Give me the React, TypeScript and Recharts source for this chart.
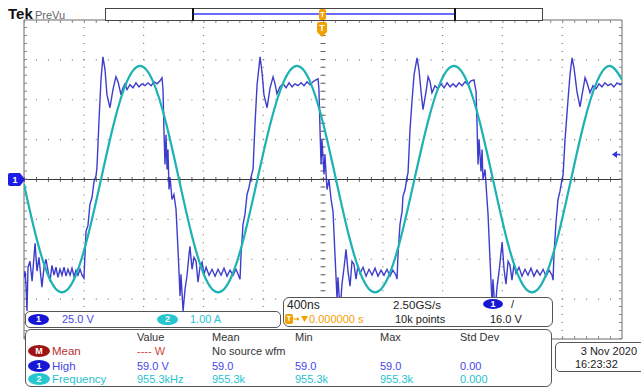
import React from 'react';
import { ComposedChart, Line, XAxis, YAxis, ReferenceLine, ReferenceArea } from 'recharts';

// ---- Channel 1 (voltage, V) : [time ns, volts]
const ch1Trace: [number, number][] = [
  [0, -61.3], [7, -57.5], [13, -65.6], [20, -82.5], [27, -55.0], [40, -51.3], [54, -63.8], [74, -40.0],
  [87, -57.5], [100, -48.8], [120, -67.5], [134, -55.0], [147, -50.0], [161, -57.5], [174, -63.8], [187, -53.8],
  [201, -60.0], [214, -55.0], [227, -61.3], [241, -56.3], [254, -60.0], [268, -55.0], [281, -60.6], [294, -56.3],
  [308, -60.0], [321, -55.6], [334, -60.6], [348, -56.9], [361, -60.0], [375, -56.3], [388, -60.0], [401, -61.9],
  [408, -46.9], [415, -32.5], [428, -28.8], [441, -15.6], [455, -11.3], [468, -1.3], [482, 2.5], [488, 7.5],
  [502, 37.5], [515, 62.5], [528, 76.9], [542, 68.8], [555, 53.1], [575, 45.0], [595, 56.3], [615, 64.4],
  [629, 61.3], [649, 53.1], [662, 57.5], [676, 60.0], [689, 56.3], [709, 59.4], [729, 57.5], [749, 60.6],
  [769, 58.1], [789, 60.0], [809, 58.8], [829, 60.6], [850, 58.8], [870, 61.3], [890, 60.0], [910, 61.9],
  [923, 63.8], [930, 56.3], [936, 31.3], [943, 9.4], [950, 28.1], [957, 6.3], [963, 18.8], [970, -6.3],
  [977, 1.3], [990, -12.5], [1003, -9.4], [1017, -18.8], [1030, -43.8], [1044, -73.1], [1050, -59.4], [1064, -82.5],
  [1077, -68.8], [1090, -60.6], [1104, -46.9], [1110, -41.9], [1124, -56.3], [1137, -48.8], [1151, -51.3], [1164, -64.4],
  [1177, -55.0], [1191, -51.9], [1204, -59.4], [1218, -55.0], [1238, -60.0], [1258, -56.3], [1278, -60.6], [1298, -56.3],
  [1318, -60.0], [1338, -55.6], [1358, -60.6], [1378, -56.9], [1398, -60.0], [1418, -56.3], [1432, -59.4], [1445, -62.5],
  [1452, -46.9], [1465, -28.1], [1478, -21.9], [1492, -9.4], [1505, -5.0], [1518, 1.3], [1532, 6.3], [1545, 34.4],
  [1559, 59.4], [1579, 76.9], [1592, 67.5], [1605, 53.1], [1626, 45.0], [1646, 57.5], [1666, 64.4], [1679, 60.0],
  [1692, 53.8], [1712, 58.1], [1733, 60.0], [1753, 57.5], [1773, 60.6], [1793, 58.1], [1813, 60.0], [1833, 58.8],
  [1853, 60.6], [1873, 58.8], [1893, 61.3], [1913, 59.4], [1933, 61.3], [1953, 62.5], [1967, 63.1],
  [1973, 56.3], [1980, 31.3], [1987, 9.4], [1993, 25.0], [2007, 3.1], [2013, 15.6], [2027, -6.3], [2040, 0],
  [2054, -12.5], [2067, -20.0], [2080, -46.9], [2094, -75.0], [2100, -61.3], [2114, -82.5], [2127, -65.6], [2141, -55.0],
  [2154, -43.8], [2167, -57.5], [2181, -66.9], [2194, -51.3], [2207, -53.1], [2221, -62.5], [2234, -53.8], [2248, -58.8],
  [2268, -55.0], [2288, -60.6], [2308, -56.3], [2328, -60.0], [2348, -55.6], [2368, -60.6], [2388, -56.9], [2408, -60.0],
  [2428, -56.3], [2448, -60.6], [2468, -56.9], [2488, -60.0], [2495, -62.5],
  [2502, -46.9], [2515, -28.1], [2529, -20.0], [2535, -10.6], [2549, -6.3], [2562, 1.3], [2569, 4.4], [2582, 31.3],
  [2596, 50.0], [2609, 65.6], [2629, 76.3], [2642, 68.8], [2656, 55.0], [2669, 43.8], [2689, 55.0], [2703, 64.4],
  [2716, 61.3], [2729, 54.4], [2749, 58.8], [2769, 56.9], [2789, 60.0], [2810, 57.5], [2830, 60.6], [2850, 58.1],
  [2870, 60.0], [2890, 58.1], [2910, 60.6], [2930, 58.8], [2950, 61.3], [2970, 59.4], [2990, 61.9], [3010, 62.5],
  [3024, 55.0], [3030, 35.6], [3037, 9.4], [3044, 25.0], [3057, 5.0], [3064, 18.8], [3070, 0], [3084, 6.3],
  [3097, -12.5], [3104, -21.9], [3117, -50.0], [3131, -78.1], [3137, -62.5], [3151, -82.5], [3164, -67.5], [3178, -57.5],
  [3198, -39.4], [3211, -56.3], [3224, -65.6], [3238, -51.3], [3251, -53.8], [3264, -63.1], [3278, -53.1], [3291, -58.8],
  [3311, -55.0], [3331, -60.6], [3351, -56.3], [3371, -60.0], [3391, -55.6], [3411, -60.6], [3431, -56.9], [3452, -60.0],
  [3472, -56.3], [3492, -60.6], [3512, -56.9], [3532, -60.0], [3539, -63.1],
  [3545, -46.9], [3559, -26.3], [3572, -12.5], [3585, -7.5], [3599, 0], [3606, 3.1], [3619, 25.0], [3639, 50.0],
  [3652, 65.6], [3666, 76.3], [3679, 70.0], [3699, 55.0], [3719, 45.6], [3739, 56.3], [3753, 63.8], [3766, 60.6],
  [3786, 54.4], [3806, 58.8], [3826, 56.9], [3846, 60.0], [3866, 58.1], [3886, 60.6], [3906, 58.8], [3926, 60.0],
  [3946, 58.1], [3967, 60.6], [3987, 59.4], [4000, 60.0],
];

// ---- Channel 2 (current, A) : [time ns, amps]
const ch2Trace: [number, number][] = [
  [0, -0.12], [80, -1.42], [167, -2.45], [254, -2.83], [341, -2.45], [428, -1.41], [515, 0.0], [602, 1.42],
  [689, 2.46], [776, 2.85], [863, 2.46], [950, 1.42], [1037, 0.0], [1124, -1.42], [1211, -2.45], [1298, -2.83],
  [1386, -2.45], [1474, -1.41], [1562, 0.02], [1650, 1.43], [1738, 2.46], [1826, 2.85], [1913, 2.46], [2000, 1.42],
  [2087, 0.0], [2174, -1.42], [2261, -2.45], [2348, -2.83], [2436, -2.45], [2524, -1.41], [2612, 0.01], [2700, 1.42],
  [2788, 2.46], [2876, 2.85], [2963, 2.46], [3050, 1.42], [3137, 0.0], [3224, -1.42], [3311, -2.45], [3398, -2.83],
  [3485, -2.45], [3572, -1.42], [3659, 0.0], [3746, 1.42], [3833, 2.46], [3920, 2.85], [4000, 2.5],
];

// graticule: 10 x 400 ns, 8 x 25 V
const majorTimes = [400, 800, 1200, 1600, 2000, 2400, 2800, 3200, 3600];
const majorVolts = [-75, -50, -25, 25, 50, 75];

const channelScales = [
  { badge: '1', text: '25.0 V', kind: 'ch1' },
  { badge: '2', text: '1.00 A', kind: 'ch2' },
];
const measHeaders = ['Value', 'Mean', 'Min', 'Max', 'Std Dev'];
const measRows = [
  { badge: 'M', label: 'Mean', kind: 'math', cells: ['---- W', 'No source wfm', '', '', ''] },
  { badge: '1', label: 'High', kind: 'ch1', cells: ['59.0 V', '59.0', '59.0', '59.0', '0.00'] },
  { badge: '2', label: 'Frequency', kind: 'ch2', cells: ['955.3kHz', '955.3k', '955.3k', '955.3k', '0.000'] },
];
const timebase = { perDiv: '400ns', rate: '2.50GS/s', points: '10k points', trigPos: '0.000000 s', trigLevel: '16.0 V' };
const dateText = '3 Nov 2020';
const timeText = '16:23:32';

const W = 641;
const H = 388;
const FONT = '"Liberation Sans", Arial, sans-serif';
const BLUE_TXT = '#4646ea';
const CYAN_TXT = '#1fc2cf';
const BLUE_BADGE = '#1616d4';
const CYAN_BADGE = '#25c6cf';
const RED_BADGE = '#9e1414';
const ORANGE = '#f2a000';

const colX = [137, 212, 295, 380, 460];
const rowCY = [351, 366, 379];

function Txt({ x, cy, c = '#333', s = 11, children, right, bold }: any) {
  const style: any = {
    position: 'absolute', top: cy - 7, lineHeight: '14px', fontSize: s, color: c,
    whiteSpace: 'nowrap', fontWeight: bold ? 'bold' : 'normal',
  };
  if (right !== undefined) style.right = W - right; else style.left = x;
  return <div style={style}>{children}</div>;
}

function Badge({ x, cy, w = 21, h = 11, bg, children }: any) {
  return (
    <div style={{
      position: 'absolute', left: x, top: cy - h / 2, width: w, height: h, borderRadius: '50%',
      background: bg, color: '#fff', fontSize: 9, fontWeight: 'bold', lineHeight: h + 'px', textAlign: 'center',
    }}>{children}</div>
  );
}

function Box({ x, y, w, h, r = 5 }: any) {
  return (
    <div style={{
      position: 'absolute', left: x, top: y, width: w, height: h, boxSizing: 'border-box',
      border: '1px solid #555', borderRadius: r, background: '#fff',
    }} />
  );
}

const kindColor = (k: string) => (k === 'ch1' ? BLUE_TXT : k === 'ch2' ? CYAN_TXT : '#b83030');
const kindBadge = (k: string) => (k === 'ch1' ? BLUE_BADGE : k === 'ch2' ? CYAN_BADGE : RED_BADGE);

export default function App() {
  const ch1Data = ch1Trace.map(([t, v]) => ({ t, v }));
  const ch2Data = ch2Trace.map(([t, a]) => ({ t, a }));
  const hDash = '1 10.96';
  const vDash = '1 6.975';
  return (
    <div style={{ position: 'fixed', left: 0, top: 0, width: W, height: H, background: '#fff', overflow: 'hidden', fontFamily: FONT }}>
      <div style={{ position: 'absolute', left: 0, top: 0 }}>
        <ComposedChart width={W} height={H} margin={{ top: 20, left: 24, right: 19, bottom: 49 }}>
          <XAxis type="number" dataKey="t" domain={[0, 4000]} hide allowDataOverflow />
          <YAxis type="number" domain={[-100, 100]} hide allowDataOverflow />
          <YAxis yAxisId="i" type="number" domain={[-4, 4]} hide allowDataOverflow />
          {majorVolts.map((v) => (
            <ReferenceLine key={'h' + v} y={v} stroke="#7a7a7a" strokeWidth={1.2} strokeDasharray={hDash} />
          ))}
          {majorTimes.map((t) => (
            <ReferenceLine key={'v' + t} x={t} stroke="#7a7a7a" strokeWidth={1.2} strokeDasharray={vDash} />
          ))}
          <ReferenceLine y={0} stroke="#666" strokeWidth={5} strokeDasharray={hDash} />
          <ReferenceLine x={2000} stroke="#666" strokeWidth={5} strokeDasharray={vDash} />
          <ReferenceLine y={0} stroke="#3a3a3a" strokeWidth={1} />
          <ReferenceLine y={100} stroke="#888" strokeWidth={6} strokeDasharray={hDash} ifOverflow="hidden" />
          <ReferenceLine y={-100} stroke="#888" strokeWidth={6} strokeDasharray={hDash} ifOverflow="hidden" />
          <ReferenceLine x={0} stroke="#888" strokeWidth={6} strokeDasharray={vDash} ifOverflow="hidden" />
          <ReferenceLine x={4000} stroke="#888" strokeWidth={6} strokeDasharray={vDash} ifOverflow="hidden" />
          <ReferenceArea x1={0} x2={4000} y1={-100} y2={100} fill="none" fillOpacity={0} stroke="#6a6a6a" strokeOpacity={1} />
          <Line data={ch1Data} dataKey="v" type="linear" stroke="#2828c8" strokeWidth={1.4} strokeOpacity={0.9}
            dot={false} activeDot={false} isAnimationActive={false} />
          <Line data={ch2Data} dataKey="a" yAxisId="i" type="natural" stroke="#1eb2b2" strokeWidth={2.2}
            dot={false} activeDot={false} isAnimationActive={false} />
        </ComposedChart>
      </div>

      {/* header */}
      <Txt x={8} cy={14} c="#111" s={15} bold>Tek</Txt>
      <Txt x={35} cy={15} c="#666" s={11}>PreVu</Txt>
      <div style={{ position: 'absolute', left: 105, top: 8, width: 438, height: 13, boxSizing: 'border-box', border: '1px solid #444', background: '#fff' }} />
      <div style={{ position: 'absolute', left: 193, top: 13, width: 262, height: 2, background: '#6c6cff' }} />
      <div style={{ position: 'absolute', left: 192, top: 8, width: 2, height: 13, background: '#111' }} />
      <div style={{ position: 'absolute', left: 454, top: 8, width: 2, height: 13, background: '#111' }} />
      <div style={{ position: 'absolute', left: 319, top: 9, width: 7, height: 11, background: ORANGE, borderRadius: 2, color: '#fff', fontSize: 8, lineHeight: '11px', textAlign: 'center', fontWeight: 'bold' }}>T</div>
      <svg style={{ position: 'absolute', left: 316, top: 22 }} width={12} height={16}>
        <path d="M1,2 Q1,0 3,0 L9,0 Q11,0 11,2 L11,10 L6,15 L1,10 Z" fill={ORANGE} />
        <text x={6} y={9} fontSize={9} fontWeight="bold" fill="#fff" textAnchor="middle" fontFamily={FONT}>T</text>
      </svg>
      {/* ch1 ground marker */}
      <svg style={{ position: 'absolute', left: 6, top: 172 }} width={20} height={16}>
        <path d="M4,1 L14,1 L19,7.5 L14,14 L4,14 Q2,14 2,12 L2,3 Q2,1 4,1 Z" fill="#1c1ce6" />
        <text x={9} y={11} fontSize={9} fontWeight="bold" fill="#fff" textAnchor="middle" fontFamily={FONT}>1</text>
      </svg>
      {/* trigger level marker */}
      <svg style={{ position: 'absolute', left: 611, top: 150 }} width={10} height={10}>
        <path d="M1,4.5 L6,1 L6,8 Z" fill="#3434e0" />
        <line x1={5} y1={4.5} x2={9} y2={4.5} stroke="#3434e0" strokeWidth={1.5} />
      </svg>

      {/* channel scale box */}
      <Box x={25} y={311} w={256} h={17} r={5} />
      <Badge x={28} cy={319} w={21} h={11} bg={BLUE_BADGE}>{channelScales[0].badge}</Badge>
      <Txt x={62} cy={319} c={BLUE_TXT}>{channelScales[0].text}</Txt>
      <Badge x={157} cy={319} w={21} h={11} bg={CYAN_BADGE}>{channelScales[1].badge}</Badge>
      <Txt x={190} cy={319} c={CYAN_TXT}>{channelScales[1].text}</Txt>

      {/* timebase / trigger box */}
      <Box x={283} y={297} w={270} h={30} r={6} />
      <Txt x={287} cy={305} c="#222" s={12}>{timebase.perDiv}</Txt>
      <div style={{ position: 'absolute', left: 285, top: 314, width: 8, height: 10, background: ORANGE, borderRadius: 2, color: '#fff', fontSize: 8, lineHeight: '10px', textAlign: 'center', fontWeight: 'bold' }}>T</div>
      <svg style={{ position: 'absolute', left: 293, top: 314 }} width={16} height={10}>
        <line x1={0.5} y1={5} x2={5.5} y2={5} stroke={ORANGE} strokeWidth={1.2} />
        <path d="M4,3 L6.5,5 L4,7 Z" fill={ORANGE} />
        <path d="M8,2 L15,2 L11.5,8 Z" fill={ORANGE} />
      </svg>
      <Txt x={309} cy={319} c={ORANGE}>{timebase.trigPos}</Txt>
      <Txt x={393} cy={305} c="#222" s={11.5}>{timebase.rate}</Txt>
      <Txt x={395} cy={319} c="#222">{timebase.points}</Txt>
      <Badge x={483} cy={304} w={20} h={10} bg={BLUE_BADGE}>1</Badge>
      <Txt x={511} cy={304} c="#222" s={11}>/</Txt>
      <Txt x={490} cy={319} c="#222">{timebase.trigLevel}</Txt>

      {/* measurement box */}
      <Box x={25} y={329} w={527} h={58} r={6} />
      {measHeaders.map((h, i) => (
        <Txt key={h} x={colX[i]} cy={337} c="#333">{h}</Txt>
      ))}
      {measRows.map((r, ri) => (
        <React.Fragment key={r.label}>
          <Badge x={28} cy={rowCY[ri]} w={22} h={12} bg={kindBadge(r.kind)}>{r.badge}</Badge>
          <Txt x={52} cy={rowCY[ri]} c={kindColor(r.kind)} s={11.5}>{r.label}</Txt>
          {r.cells.map((c, ci) => (
            c ? <Txt key={ci} x={colX[ci]} cy={rowCY[ri]}
              c={r.kind === 'math' ? (ci === 0 ? '#d04848' : '#333') : kindColor(r.kind)}>{c}</Txt> : null
          ))}
        </React.Fragment>
      ))}

      {/* date box */}
      <Box x={555} y={342} w={90} h={30} r={5} />
      <Txt right={637} cy={351} c="#222">{dateText}</Txt>
      <Txt x={575} cy={364} c="#222">{timeText}</Txt>
    </div>
  );
}
